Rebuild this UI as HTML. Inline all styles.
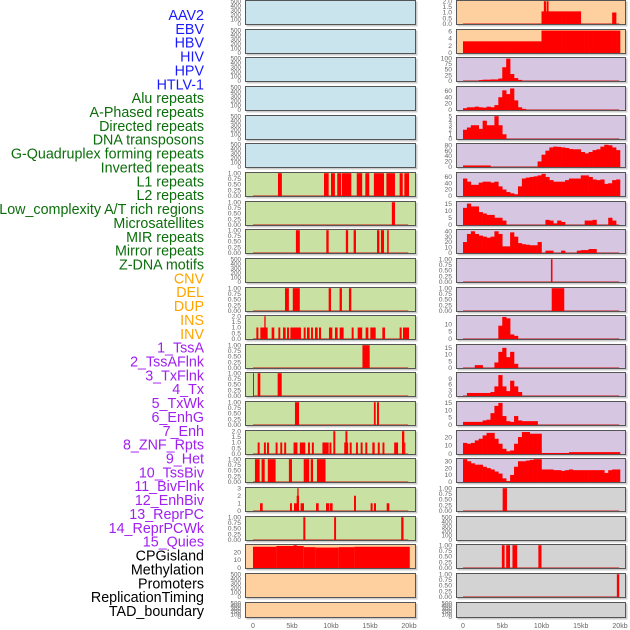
<!DOCTYPE html>
<html><head><meta charset="utf-8"><style>
html,body{margin:0;padding:0;background:#fff;width:630px;height:630px;overflow:hidden}
svg{display:block}
</style></head><body>
<svg id="chart" width="630" height="630" viewBox="0 0 630 630" xmlns="http://www.w3.org/2000/svg" font-family="Liberation Sans, sans-serif"></svg>
<script>
// ---------- category labels ----------
const labelNames = ["AAV2","EBV","HBV","HIV","HPV","HTLV-1","Alu repeats","A-Phased repeats","Directed repeats","DNA transposons","G-Quadruplex forming repeats","Inverted repeats","L1 repeats","L2 repeats","Low_complexity A/T rich regions","Microsatellites","MIR repeats","Mirror repeats","Z-DNA motifs","CNV","DEL","DUP","INS","INV","1_TssA","2_TssAFlnk","3_TxFlnk","4_Tx","5_TxWk","6_EnhG","7_Enh","8_ZNF_Rpts","9_Het","10_TssBiv","11_BivFlnk","12_EnhBiv","13_ReprPC","14_ReprPCWk","15_Quies","CPGisland","Methylation","Promoters","ReplicationTiming","TAD_boundary"];
const labelGroups = [0,0,0,0,0,0,1,1,1,1,1,1,1,1,1,1,1,1,1,2,2,2,2,2,3,3,3,3,3,3,3,3,3,3,3,3,3,3,3,4,4,4,4,4];
const groupColors = ["#1a1aff","#0b6e0b","#ffa500","#a020f0","#000000"];

// ---------- tick arrays ----------
const t500 = [0,100,200,300,400,500];
const t1 = [0,0.25,0.5,0.75,1];
const t2 = [0,0.5,1,1.5,2];
const t3 = [0,1,2,3];
const tCpg = [0,10,20];
const tEbv = [0,2,4,6];
const tHiv = [0,25,50,75,100];
const t60 = [0,20,40,60];
const t5 = [0,1,2,3,4,5];
const t80 = [0,20,40,60,80];
const t15 = [0,5,10,15];
const t40 = [0,10,20,30,40];
const t10 = [0,5,10];
const t9 = [0,3,6,9];
const t20 = [0,10,20];
const t30 = [0,10,20,30];
const xTickVals = [0,5,10,15,20];
const xTickLabels = ["0","5kb","10kb","15kb","20kb"];

// ---------- left column segments [startKb, endKb, value] ----------
const segL1 = [[3.2,3.7,1],[9.1,9.7,1],[10,10.5,1],[10.8,11.3,1],[11.4,12.6,1],[13.3,14,1],[14.4,14.9,1],[15.5,16.8,1],[17.1,18.2,1],[18.8,19.2,1],[19.4,20,1]];
const segL2 = [[17.8,18.2,1]];
const segMir = [[5.5,6,1],[9.4,9.7,1],[11.9,12.2,1],[12.9,13.2,1],[15.9,16.2,1],[16.4,16.8,1],[17.2,17.4,1]];
const segDel = [[4.1,4.6,1],[5.1,6,1],[9.7,10,1],[11.1,11.4,1],[12.3,12.6,1]];
const segIns = [[0.43,0.69,1],[0.94,1.88,1],[1.45,1.62,2],[2.39,2.73,1],[3.25,3.5,1],[3.85,4.19,1],[4.36,4.62,1],[4.79,6.15,1],[6.5,6.75,1],[6.92,7.26,1],[7.44,7.69,1],[7.95,8.29,1],[8.46,8.72,1],[9.74,10.17,1],[10.51,10.85,1],[11.11,11.62,1],[12.65,12.9,1],[13.42,14,1],[14.44,14.79,1],[15.04,15.73,1],[16.58,16.92,1],[18.8,19.06,1],[19.23,20,1]];
const segTssA = [[14.03,14.96,1]];
const segTssAFlnk = [[0,0.1,1],[0.6,0.94,1],[3.16,3.68,1]];
const segTxFlnk = [[5.38,5.9,1],[15.5,15.73,1],[15.9,16.15,1]];
const segZnf = [[0.6,0.85,1],[1.4,1.65,1],[1.8,2.05,1],[2.9,3.15,1],[3.5,3.75,1],[4,4.25,1],[5.2,5.7,1],[6,6.7,1],[7.05,7.3,1],[7.55,7.8,1],[8.9,9.7,1],[9.8,10.05,1],[10.3,10.55,2],[11.7,12.2,1],[11.85,12.1,2],[12.4,12.65,1],[13.2,13.45,1],[13.8,14.05,1],[14.4,14.65,1],[15.3,15.6,1],[16,16.25,1],[16.6,16.85,1],[18.1,18.6,1],[19.1,19.4,2],[19.4,19.5,1]];
const segHet = [[0.25,0.85,1],[1.1,1.5,1],[1.9,2.9,1],[4.6,5,1],[6.5,7.2,1],[7.4,7.7,1],[8.2,9.3,1]];
const segTssBiv = [[0.9,1.24,1],[4.74,4.99,1],[5.26,5.77,1],[5.6,5.9,2],[5.68,5.85,3],[6.1,6.54,1],[8.08,8.42,1],[9.36,9.79,1],[9.87,10.21,1],[12.95,13.2,2],[15.08,15.34,1],[15.51,15.77,1],[17.14,17.48,1]];
const segReprPC = [[6.45,6.71,1],[10.4,10.65,1],[19,19.3,1]];
const segCpg = [[0,3,27],[3,6.5,28],[5.2,5.6,29],[6.5,8,26.5],[8,11,26],[11,13,26.5],[13,20.1,27]];

// ---------- right column profiles (0.5 kb bins from 0 kb) ----------
const binAav2 = [0,0,0,0,0,0,0,0,0,0,0,0,0,0,0,0,0,0,0,0,1.1,1.1,1.1,1.1,1.1,1.1,1.1,1.1,1.1,1.1,0,0,0,0,0,0,0,0,1,0];
const segAav2Spikes = [[10.3,10.57,2],[10.65,10.9,2]];
const binEbv = [3.2,3.2,3.2,3.2,3.2,3.2,3.2,3.2,3.2,3.2,3.2,3.2,3.2,3.2,3.2,3.2,3.2,3.2,3.2,3.2,6.2,6.2,6.2,6.2,6.2,6.2,6.2,6.2,6.2,6.2,6.2,6.2,6.2,6.2,6.2,6.2,6.2,6.2,6.2,6.2];
const binHiv = [0,0,0,0,3,5,5,6,6,10,60,98,30,12,4,0,0,0,0,0,0,0,0,0,0,0,0,0,0,0,0,0,0,0,0,0,0,0,0,0];
const binAlu = [5,8,8,10,8,7,10,8,15,40,62,50,68,30,8,3,0,0,0,0,0,0,0,0,0,0,0,0,0,0,0,0,0,0,0,0,0,0,0,0];
const binAph = [2,2.5,3,3,2.2,4,3,3,5,3,1,0,0,0,0,0,0,0,0,0,0,0,0,0,0,0,0,0,0,0,0,0,0,0,0,0,0,0,0,0];
const binGq = [5,5,5,5,5,5,5,0,0,0,0,0,0,0,0,0,0,0,0,20,45,60,72,75,74,72,70,66,65,65,55,50,55,62,65,75,82,80,72,62];
const binL1 = [55,45,35,35,42,45,45,42,45,30,20,12,8,5,30,55,58,60,62,65,70,60,50,45,45,45,50,55,55,55,65,65,60,52,50,52,38,40,50,52];
const binL2 = [12,15,13,13,9,8,7,7,5,5,3,0,0,0,0,0,0,0,0,0,0,3.5,3,1,3,2,0,0,0,0,0,3,3,3.5,0,0,0,5,3,0];
const binMir = [20,35,40,35,32,30,28,30,40,35,12,12,38,30,18,16,15,14,14,20,0,4,4,0,0,4,0,0,0,4,5,5,7,7,0,0,0,0,0,0];
const segZdna = [[11.2,11.4,1]];
const segCnv = [[11.3,12.9,1]];
const binIns = [0,0,0,0,0,0,0,0,0,9,15,14,3,2,0,0,0,0,0,0,0,0,0,0,0,0,0,0,0,0,0,0,0,0,0,0,0,0,0,0];
const binTssA = [0,0,0,2,2,0,0,0,4,12,15,8,12,3,0,0,0,0,0,0,0,0,0,0,0,0,0,0,0,0,0,0,0,0,0,0,0,0,0,0];
const binFlnk = [0,1.5,1.5,1.5,1.5,1.5,1.5,2,5,11,5,2.5,8,5,2,0,0,0,0,0,0,0,0,0,0,0,0,0,0,0,0,0,0,0,0,0,0,0,0,0];
const binTx = [2,2,2,2,2,3,3.5,8,13,15,6,2.5,2,6,3,2.5,2.5,2.5,2.5,0,0,0,0,0,0,0,0,0,0,0,0,0,0,0,0,0,0,0,0,0];
const binZnfR = [13,12,13,16,18,22,25,25,18,12,6,3,4,12,20,26,26,24,24,24,1,1,1,1,1,1,1,2,2,2,2,2,2,2,2,2,2,2,2,2];
const binHetR = [33,30,27,25,25,22,20,18,15,12,5,1,10,22,30,30,31,32,33,33,18,18,18,17,17,16,17,18,17,17,17,17,17,17,17,17,13,17,18,18];
const segBivFlnk = [[5.05,5.6,1]];
const segCpgR = [[4.95,5.3,1],[5.5,5.99,1],[6.3,6.9,1],[9.6,10,1]];
const segRepl = [[19.6,19.9,1]];
const segEmpty = [];

// ---------- panel configuration ----------
const BG = {blue:"#c9e4ec",green:"#c9e2a3",orange:"#ffd09f",purple:"#d6c6e2",gray:"#d3d3d3"};
const leftPanels = [
 ["blue",t500,500,0,segEmpty,null],["blue",t500,500,0,segEmpty,null],["blue",t500,500,0,segEmpty,null],
 ["blue",t500,500,0,segEmpty,null],["blue",t500,500,0,segEmpty,null],["blue",t500,500,0,segEmpty,null],
 ["green",t1,1,2,segL1,null],["green",t1,1,2,segL2,null],["green",t1,1,2,segMir,null],
 ["green",t500,500,0,segEmpty,null],["green",t1,1,2,segDel,null],["green",t2,2,1,segIns,null],
 ["green",t1,1,2,segTssA,null],["green",t1,1,2,segTssAFlnk,null],["green",t1,1,2,segTxFlnk,null],
 ["green",t2,2,1,segZnf,null],["green",t1,1,2,segHet,null],["green",t3,3,0,segTssBiv,null],
 ["green",t1,1,2,segReprPC,null],["orange",tCpg,29,0,segCpg,null],["orange",t500,500,0,segEmpty,null],
 ["orange",t500,500,0,segEmpty,null]
];
const rightPanels = [
 ["orange",t2,2,1,segAav2Spikes,binAav2],["orange",tEbv,6.3,0,segEmpty,binEbv],["purple",tHiv,100,0,segEmpty,binHiv],
 ["purple",t60,72,0,segEmpty,binAlu],["purple",t5,5,0,segEmpty,binAph],["purple",t80,84,0,segEmpty,binGq],
 ["purple",t60,72,0,segEmpty,binL1],["purple",t15,16,0,segEmpty,binL2],["purple",t40,42,0,segEmpty,binMir],
 ["purple",t1,1,2,segZdna,null],["purple",t1,1,2,segCnv,null],["purple",t10,15.5,0,segEmpty,binIns],
 ["purple",t15,17,0,segEmpty,binTssA],["purple",t9,12,0,segEmpty,binFlnk],["purple",t15,15.5,0,segEmpty,binTx],
 ["purple",t20,27,0,segEmpty,binZnfR],["purple",t30,33,0,segEmpty,binHetR],["gray",t1,1,2,segBivFlnk,null],
 ["gray",t500,500,0,segEmpty,null],["gray",t1,1,2,segCpgR,null],["gray",t1,1,2,segRepl,null],
 ["gray",t500,500,0,segEmpty,null]
];

const NS = "http://www.w3.org/2000/svg";
const svg = document.getElementById("chart");
function mk(tag, attrs, parent){
  const e = document.createElementNS(NS, tag);
  for (const k in attrs) e.setAttribute(k, attrs[k]);
  (parent||svg).appendChild(e);
  return e;
}
const cols = [
  {x0:245, x1:416, zero:253, pxPerKb:7.8, panels:leftPanels, side:"left"},
  {x0:456, x1:626, zero:463, pxPerKb:7.85, panels:rightPanels, side:"right"}
];
function rowTop(i){ return Math.round(i*28.65); }
function rowH(i){ return i===21 ? 16 : 25; }

// labels
labelNames.forEach((name,i)=>{
  const t = mk("text",{x:204,y:15+i*13.86+5,"text-anchor":"end","font-size":"14.3",fill:groupColors[labelGroups[i]]});
  
  
  t.textContent = name;
});

cols.forEach(col=>{
  const xs = kb => col.zero + kb*col.pxPerKb;
  col.panels.forEach((p,i)=>{
    const [bg,ticks,ymax,dec,segs,bins] = p;
    const T = rowTop(i), H = rowH(i), B = T+H;
    const y0 = B-1.2, y1 = T+1.2;
    const ys = v => y0 - (v/ymax)*(y0-y1);
    const g = mk("g",{});
    
    
    mk("rect",{x:col.x0+1.5,y:T+1.5,width:col.x1-col.x0,height:H,fill:"#aaaaaa",opacity:"0.6"},g);
    const bgr = mk("rect",{x:col.x0,y:T,width:col.x1-col.x0,height:H,fill:BG[bg]},g);
    
    
    const hasData = segs.length>0 || bins;
    if (hasData){
      const bl = mk("line",{x1:xs(0),x2:xs(19.9),y1:y0,y2:y0,stroke:"rgba(200,0,0,0.45)","stroke-width":"1.5"},g);
      
      
    }
    if (bins){
      bins.forEach((v,k)=>{
        if (v<=0) return;
        const r = mk("rect",{x:xs(k*0.5),y:ys(v),width:xs((k+1)*0.5)-xs(k*0.5)+0.3,height:y0-ys(v)+0.5,fill:"#ff0000"},g);
        
        
      });
    }
    segs.forEach(s=>{
      const r = mk("rect",{x:xs(s[0]),y:ys(s[2]),width:Math.max(1,xs(s[1])-xs(s[0])),height:y0-ys(s[2])+0.5,fill:"#ff0000"},g);
      
      
    });
    mk("rect",{x:col.x0+0.5,y:T+0.5,width:col.x1-col.x0-1,height:H-1,fill:"none",stroke:"#555","stroke-width":"1"},g);
    const fs = ticks.length>=6 ? 6.3 : 6.8;
    ticks.forEach(v=>{
      const t = mk("text",{x:col.x0-4,y:ys(v)+2.2,"text-anchor":"end","font-size":fs,fill:"#666"},g);
      
      
      t.textContent = v.toFixed(dec);
    });
  });
  xTickVals.forEach((v,k)=>{
    const t = mk("text",{x:xs(v),y:628,"text-anchor":"middle","font-size":"7",fill:"#666"});
    
    
    t.textContent = xTickLabels[k];
  });
});
</script>
</body></html>
